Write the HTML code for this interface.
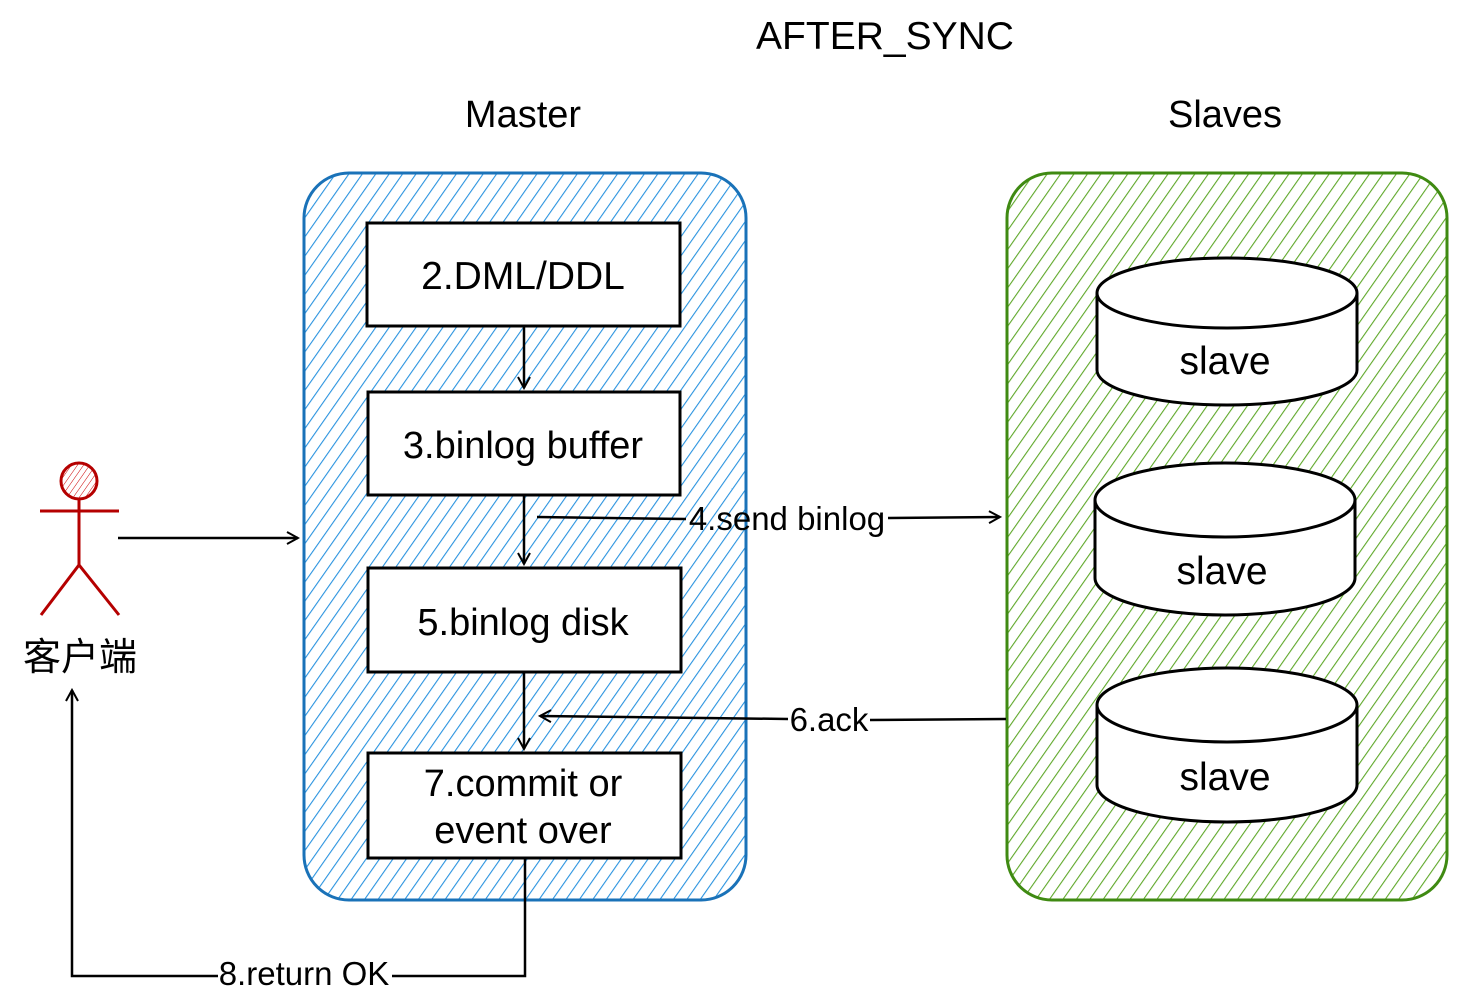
<!DOCTYPE html>
<html><head><meta charset="utf-8"><style>
html,body{margin:0;padding:0;background:#fff;width:1476px;height:1006px;overflow:hidden}
text{font-family:"Liberation Sans","Noto Sans CJK SC",sans-serif;fill:#000}
</style></head><body>
<svg width="1476" height="1006" viewBox="0 0 1476 1006" xmlns="http://www.w3.org/2000/svg">
<defs>
<pattern id="hb" width="11" height="11" patternUnits="userSpaceOnUse" patternTransform="rotate(35)">
<line x1="0" y1="0" x2="0" y2="11" stroke="#2a93df" stroke-width="2.2"/></pattern>
<pattern id="hg" width="11" height="11" patternUnits="userSpaceOnUse" patternTransform="rotate(35)">
<line x1="0" y1="0" x2="0" y2="11" stroke="#5fa82a" stroke-width="2.2"/></pattern>
<pattern id="hr" width="5" height="5" patternUnits="userSpaceOnUse" patternTransform="rotate(35)">
<line x1="0" y1="0" x2="0" y2="5" stroke="#c00" stroke-width="1"/></pattern>
<marker id="ar" markerWidth="14" markerHeight="14" refX="12" refY="7" orient="auto" markerUnits="userSpaceOnUse">
<path d="M1,1 L12,7 L1,13" fill="none" stroke="#000" stroke-width="2"/></marker>
</defs>
<text x="885" y="49" font-size="39" text-anchor="middle">AFTER_SYNC</text>
<text x="523" y="127" font-size="38" text-anchor="middle">Master</text>
<text x="1225" y="127" font-size="38" text-anchor="middle">Slaves</text>

<rect x="304" y="173" width="442" height="727" rx="45" fill="url(#hb)" stroke="#1a72b8" stroke-width="3"/>
<rect x="1007" y="173" width="440" height="727" rx="45" fill="url(#hg)" stroke="#3f8a12" stroke-width="3"/>

<g fill="#fff" stroke="#000" stroke-width="3">
<rect x="367" y="223" width="313" height="103"/>
<rect x="368" y="392" width="312" height="103"/>
<rect x="368" y="568" width="313" height="104"/>
<rect x="368" y="753" width="313" height="105"/>
</g>
<text x="523" y="289" font-size="39" text-anchor="middle">2.DML/DDL</text>
<text x="523" y="458" font-size="38" text-anchor="middle">3.binlog buffer</text>
<text x="523" y="635" font-size="38" text-anchor="middle">5.binlog disk</text>
<text x="523" y="796" font-size="38" text-anchor="middle">7.commit or</text>
<text x="523" y="843" font-size="38" text-anchor="middle">event over</text>

<g fill="#fff" stroke="#000" stroke-width="3">
<path d="M1097,293 L1097,370 A130,35 0 0 0 1357,370 L1357,293"/>
<ellipse cx="1227" cy="293" rx="130" ry="35"/>
<path d="M1095,500 L1095,578 A130,37 0 0 0 1355,578 L1355,500"/>
<ellipse cx="1225" cy="500" rx="130" ry="37"/>
<path d="M1097,705 L1097,785 A130,37 0 0 0 1357,785 L1357,705"/>
<ellipse cx="1227" cy="705" rx="130" ry="37"/>
</g>
<text x="1225" y="374" font-size="39" text-anchor="middle">slave</text>
<text x="1222" y="584" font-size="39" text-anchor="middle">slave</text>
<text x="1225" y="790" font-size="39" text-anchor="middle">slave</text>

<g fill="none" stroke="#000" stroke-width="2.5">
<path d="M524,327 L524,388" marker-end="url(#ar)"/>
<path d="M524,496 L524,564" marker-end="url(#ar)"/>
<path d="M524,673 L524,749" marker-end="url(#ar)"/>
<path d="M537,517 L686,519 M888,518 L1000,517" marker-end="url(#ar)"/>
<path d="M1006,719 L870,720 M788,719 L540,716" marker-end="url(#ar)"/>
<path d="M118,538 L298,538" marker-end="url(#ar)"/>
<path d="M525,859 L525,976 L392,976 M218,976 L72,976 L72,690" marker-end="url(#ar)"/>
</g>
<text x="787" y="530" font-size="33" text-anchor="middle">4.send binlog</text>
<text x="829" y="731" font-size="33" text-anchor="middle">6.ack</text>
<text x="304" y="985" font-size="33" text-anchor="middle">8.return OK</text>

<g stroke="#b50000" stroke-width="3" fill="none">
<circle cx="79" cy="481" r="18" fill="url(#hr)"/>
<line x1="40" y1="511" x2="119" y2="511"/>
<line x1="79" y1="499" x2="79" y2="565"/>
<path d="M41,615 L79,565 L119,615"/>
</g>
<text x="80" y="670" font-size="38" text-anchor="middle">客户端</text>
</svg>
</body></html>
